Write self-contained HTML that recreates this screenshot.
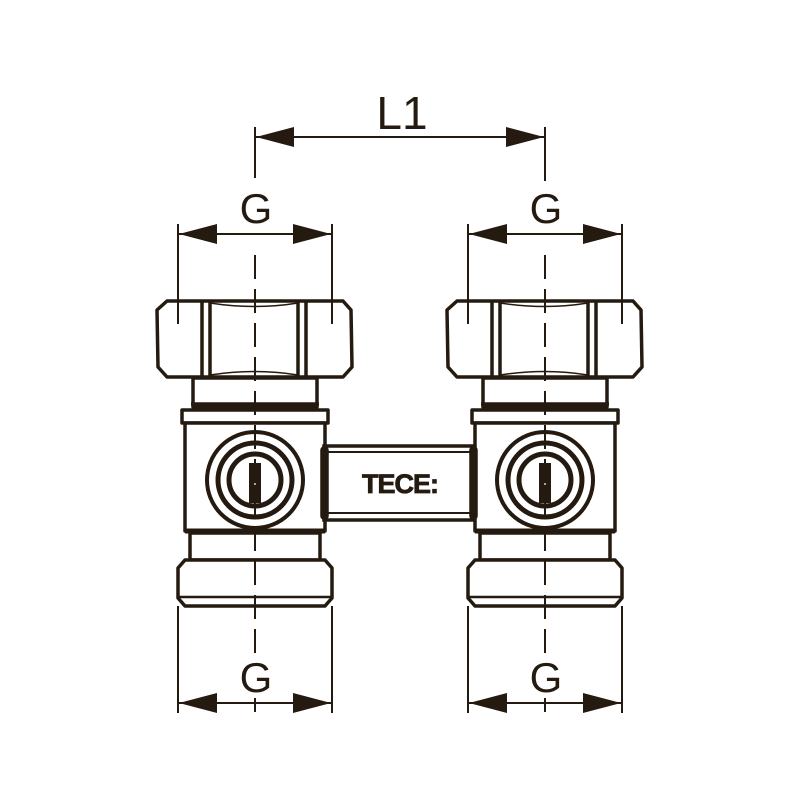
<!DOCTYPE html>
<html><head><style>html,body{margin:0;padding:0;background:#fff}svg{display:block}</style></head>
<body>
<svg width="800" height="800" viewBox="0 0 800 800" xmlns="http://www.w3.org/2000/svg">
<defs>
<g id="valve" fill="none" stroke="#241a10" stroke-width="3.5" stroke-linejoin="round">
  <!-- hex nut -->
  <path d="M-88,301 L88,301 L96,310 L97,367 L88,377 L-88,377 L-97,367 L-98,310 Z" fill="#fff"/>
  <path d="M-45,303 Q0,310 43,303" stroke-width="1.5"/>
  <path d="M-45,375 Q0,368 43,375" stroke-width="1.5"/>
  <line x1="-53" y1="302" x2="-53" y2="377"/><line x1="-45" y1="301" x2="-45" y2="378"/>
  <line x1="43" y1="301" x2="43" y2="378"/><line x1="51" y1="302" x2="51" y2="377"/>
  <!-- neck -->
  <rect x="-62" y="378" width="124" height="29" fill="#fff"/>
  <line x1="-64" y1="404" x2="64" y2="404"/>
  <!-- collar -->
  <rect x="-73" y="410" width="146" height="13" fill="#fff"/>
  <!-- body -->
  <rect x="-70" y="423" width="140" height="108" fill="#fff"/>
  <line x1="-70" y1="531" x2="70" y2="531" stroke-width="5"/>
  <!-- handle -->
  <circle cx="0" cy="480" r="48" fill="#fff" stroke-width="4"/>
  <circle cx="0" cy="480" r="37" stroke-width="5"/>
  <circle cx="0" cy="480" r="26" stroke-width="5"/>
  <rect x="-6" y="463" width="12" height="40" fill="#241a10" stroke="none"/>
  <line x1="0" y1="466" x2="0" y2="485" stroke="#fff" stroke-width="1.2"/>
  <!-- lower neck -->
  <rect x="-65" y="533" width="130" height="27" fill="#fff"/>
  <!-- lower nut -->
  <path d="M-70,560 L70,560 L77,568 L77,598 L70,606 L-70,606 L-77,598 L-77,568 Z" fill="#fff"/>
  <line x1="-77" y1="597" x2="77" y2="597" stroke-width="2.5"/>
  <!-- extension lines -->
  <g stroke-width="2">
    <line x1="-77" y1="224" x2="-77" y2="324"/>
    <line x1="77" y1="224" x2="77" y2="324"/>
    <line x1="-77" y1="606" x2="-77" y2="713"/>
    <line x1="77" y1="606" x2="77" y2="713"/>
  </g>
  <!-- centerline -->
  <line x1="0" y1="255" x2="0" y2="655" stroke-width="2" stroke-dasharray="24,10"/>
  <line x1="0" y1="698" x2="0" y2="712" stroke-width="2"/>
</g>
</defs>

<use href="#valve" transform="translate(255,0)"/>
<use href="#valve" transform="translate(545,0)"/>

<!-- crossbar -->
<g fill="#fff" stroke="#241a10" stroke-width="3.5">
  <rect x="324" y="446" width="150" height="74"/>
  <line x1="324" y1="452" x2="474" y2="452" stroke-width="2"/>
  <line x1="324" y1="513" x2="474" y2="513" stroke-width="2"/>
  <rect x="322" y="448" width="5" height="70" fill="#241a10" rx="2"/>
  <rect x="471" y="448" width="5" height="70" fill="#241a10" rx="2"/>
</g>
<text x="400" y="493" text-anchor="middle" font-family="Liberation Sans, sans-serif" font-weight="bold" font-size="27" fill="#241a10" stroke="#241a10" stroke-width="0.8" letter-spacing="-1">TECE:</text>

<!-- dimensions -->
<g stroke="#241a10" stroke-width="2" fill="#241a10">
  <line x1="255" y1="127" x2="255" y2="178"/>
  <line x1="545" y1="127" x2="545" y2="181"/>
  <line x1="256" y1="137" x2="544" y2="137"/>
  <polygon points="256,137 294,127 294,147" stroke="none"/>
  <polygon points="544,137 506,127 506,147" stroke="none"/>

  <line x1="178" y1="234" x2="332" y2="234"/>
  <polygon points="179,234 217,224 217,244" stroke="none"/>
  <polygon points="331,234 293,224 293,244" stroke="none"/>
  <line x1="468" y1="234" x2="622" y2="234"/>
  <polygon points="469,234 507,224 507,244" stroke="none"/>
  <polygon points="621,234 583,224 583,244" stroke="none"/>

  <line x1="178" y1="703" x2="332" y2="703"/>
  <polygon points="179,703 217,693 217,713" stroke="none"/>
  <polygon points="331,703 293,693 293,713" stroke="none"/>
  <line x1="468" y1="703" x2="622" y2="703"/>
  <polygon points="469,703 507,693 507,713" stroke="none"/>
  <polygon points="621,703 583,693 583,713" stroke="none"/>
</g>
<g font-family="Liberation Sans, sans-serif" font-size="42" fill="#241a10" text-anchor="middle">
  <text x="402" y="129" font-size="46">L1</text>
  <text x="256" y="223">G</text>
  <text x="546" y="223">G</text>
  <text x="256" y="692">G</text>
  <text x="546" y="692">G</text>
</g>
</svg>
</body></html>
